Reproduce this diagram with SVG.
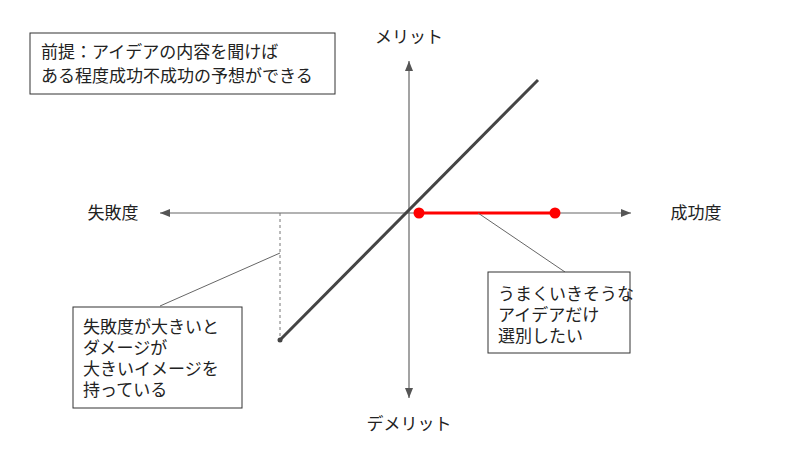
<svg xmlns="http://www.w3.org/2000/svg" width="800" height="465" viewBox="0 0 800 465">
<style>
text{font-family:"Noto Sans CJK JP","Noto Sans",sans-serif;font-size:17px;fill:#222}
.box{fill:#fff;stroke:#333;stroke-width:1}
.axis{stroke:#666;stroke-width:1.2;fill:none}
.lead{stroke:#666;stroke-width:1;fill:none}
</style>
<defs>
<marker id="ah" viewBox="0 0 10 10" refX="10" refY="5" markerWidth="10" markerHeight="10" markerUnits="userSpaceOnUse" orient="auto">
<path d="M0,1 L10,5 L0,9 Z" fill="#555"/>
</marker>
</defs>
<rect width="800" height="465" fill="#fff"/>
<g id="connectors">
<line class="axis" x1="409" y1="213" x2="631" y2="213" marker-end="url(#ah)"/>
<line class="axis" x1="409" y1="213" x2="160" y2="213" marker-end="url(#ah)"/>
<line class="axis" x1="409" y1="213" x2="409" y2="61" marker-end="url(#ah)"/>
<line class="axis" x1="409" y1="213" x2="409" y2="398" marker-end="url(#ah)"/>
<line x1="280" y1="213" x2="280" y2="340" stroke="#777" stroke-width="1" stroke-dasharray="3,3"/>
<line x1="280" y1="340" x2="538" y2="80" stroke="#444" stroke-width="3"/>
<circle cx="280" cy="340" r="2.5" fill="#444"/>
<line x1="419" y1="213" x2="555" y2="213" stroke="#f00" stroke-width="3"/>
<circle cx="419" cy="213" r="5.5" fill="#f00"/>
<circle cx="555" cy="213" r="5.5" fill="#f00"/>
<line class="lead" x1="160" y1="306" x2="280" y2="253"/>
<line class="lead" x1="478" y1="213" x2="565" y2="272"/>
</g>
<g id="premise">
<rect class="box" x="30" y="33" width="305" height="61"/>
<text x="41" y="58">前提：アイデアの内容を聞けば</text>
<text x="41" y="82">ある程度成功不成功の予想ができる</text>
</g>
<g id="label-merit"><text x="409" y="43" text-anchor="middle">メリット</text></g>
<g id="label-demerit"><text x="409" y="430" text-anchor="middle">デメリット</text></g>
<g id="label-failure"><text x="113" y="219" text-anchor="middle">失敗度</text></g>
<g id="label-success"><text x="696" y="219" text-anchor="middle">成功度</text></g>
<g id="note-failure">
<rect class="box" x="73" y="307" width="169" height="101"/>
<text x="83" y="333">失敗度が大きいと</text>
<text x="83" y="354">ダメージが</text>
<text x="83" y="375">大きいイメージを</text>
<text x="83" y="396">持っている</text>
</g>
<g id="note-success">
<rect class="box" x="488" y="272" width="142" height="81"/>
<text x="498" y="300">うまくいきそうな</text>
<text x="498" y="321">アイデアだけ</text>
<text x="498" y="342">選別したい</text>
</g>
</svg>
